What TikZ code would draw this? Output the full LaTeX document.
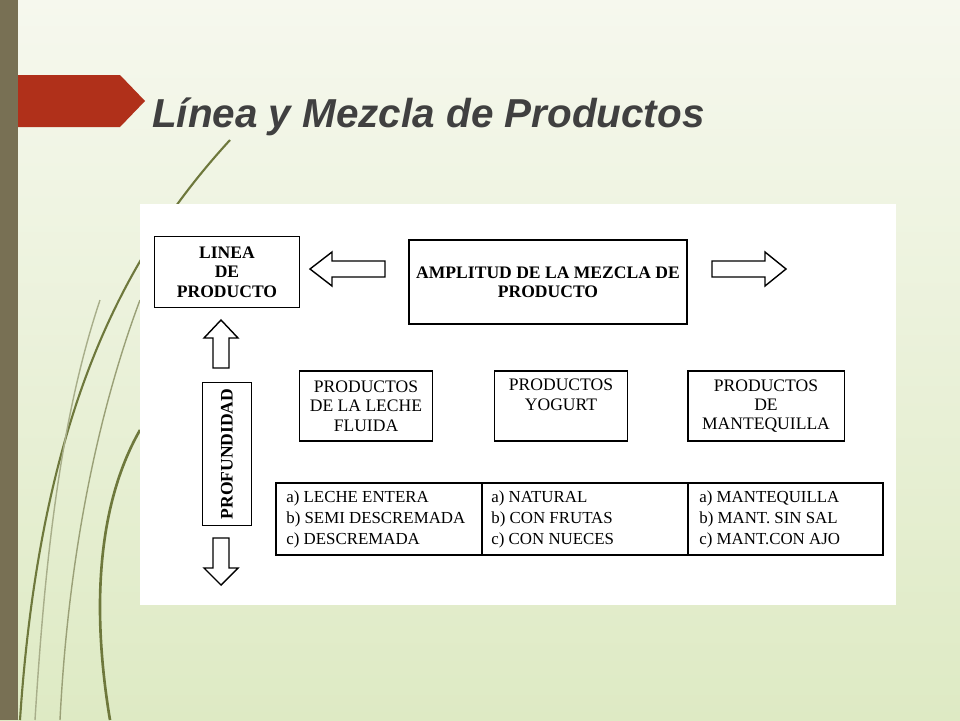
\documentclass[tikz,border=0pt]{standalone}
\usepackage{fontspec}
\setmainfont{Liberation Serif}
\newfontfamily\titlefont{Liberation Sans}
\usetikzlibrary{positioning}
\definecolor{bgtop}{RGB}{246,248,238}
\definecolor{bgbot}{RGB}{222,234,196}
\definecolor{barcol}{RGB}{120,112,84}
\definecolor{redband}{RGB}{176,48,26}
\definecolor{grass}{RGB}{110,120,60}
\tikzset{
  box/.style={draw, thick, align=center, inner sep=0pt, font=\fontsize{10}{11}\selectfont},
  boldbox/.style={box, font=\bfseries\fontsize{10}{11}\selectfont},
  fatarrow/.style={draw, thick, fill=white},
  cell/.style={anchor=north west, align=left, font=\fontsize{9.6}{12}\selectfont, inner sep=0pt}
}
\begin{document}
\begin{tikzpicture}[x=0.02cm,y=-0.02cm]
  \useasboundingbox (0,0) rectangle (960,720);
  \shade[top color=bgtop, bottom color=bgbot] (0,0) rectangle (960,720);
  \fill[barcol] (0,0) rectangle (18,720);
  % grass
  \draw[grass, line width=1.2pt] (20,720) .. controls (40,420) and (120,260) .. (230,140);
  \draw[grass!70, line width=0.8pt] (60,720) .. controls (70,520) and (110,380) .. (140,300);
  \draw[grass, line width=1.5pt] (110,720) .. controls (90,600) and (100,500) .. (140,430);
  \draw[grass!60, line width=0.8pt] (35,720) .. controls (45,560) and (60,420) .. (100,300);
  % banner
  \fill[redband] (18,75) -- (120,75) -- (145,101) -- (120,127) -- (18,127) -- cycle;
  \node[anchor=west, text=black!75, font=\titlefont\bfseries\itshape\fontsize{23}{27}\selectfont] (title) at (146,117) {Línea y Mezcla de Productos};
  % panel
  \fill[white] (140,204) rectangle (896,605);
  \node[boldbox, minimum width=145*0.567pt, minimum height=71*0.567pt] (linea) at (227,272) {LINEA\\DE\\PRODUCTO};
  \node[boldbox, minimum width=279*0.567pt, minimum height=84*0.567pt] (amplitud) at (548,282) {AMPLITUD DE LA MEZCLA DE\\PRODUCTO};
  % arrows
  \draw[fatarrow] (310,269) -- (332,252) -- (332,261) -- (385,261) -- (385,277) -- (332,277) -- (332,286) -- cycle;
  \draw[fatarrow] (786,269) -- (765,252) -- (765,261) -- (712,261) -- (712,277) -- (765,277) -- (765,286) -- cycle;
  \draw[fatarrow] (221,320) -- (238,338) -- (229,338) -- (229,368) -- (213,368) -- (213,338) -- (204,338) -- cycle;
  \draw[fatarrow] (221,585) -- (238,568) -- (229,568) -- (229,538) -- (213,538) -- (213,568) -- (204,568) -- cycle;
  \node[boldbox, minimum width=49*0.567pt, minimum height=144*0.567pt] (prof) at (227,454) {};
  \node[rotate=90, font=\bfseries\fontsize{10}{11}\selectfont] (proftxt) at (prof.center) {PROFUNDIDAD};
  \node[box, minimum width=133*0.567pt, minimum height=70*0.567pt] (leche) at (366,406) {PRODUCTOS\\DE LA LECHE\\FLUIDA};
  \node[box, minimum width=134*0.567pt, minimum height=70*0.567pt] (yogurt) at (561,406) {};
  \node[font=\fontsize{10}{11}\selectfont, align=center, anchor=north, inner sep=0pt] (yogtxt) at (561,379) {PRODUCTOS\\YOGURT};
  \node[box, minimum width=157*0.567pt, minimum height=70*0.567pt] (mante) at (766,406) {PRODUCTOS\\DE\\MANTEQUILLA};
  % table
  \draw[thick] (276,483) rectangle (883,555);
  \draw[thick] (482,483) -- (482,555);
  \draw[thick] (688,483) -- (688,555);
  \node[cell] (c1) at (286,490) {a) LECHE ENTERA\\b) SEMI DESCREMADA\\c) DESCREMADA};
  \node[cell] (c2) at (491,490) {a) NATURAL\\b) CON FRUTAS\\c) CON NUECES};
  \node[cell] (c3) at (699,490) {a) MANTEQUILLA\\b) MANT. SIN SAL\\c) MANT.CON AJO};
\end{tikzpicture}
\end{document}
